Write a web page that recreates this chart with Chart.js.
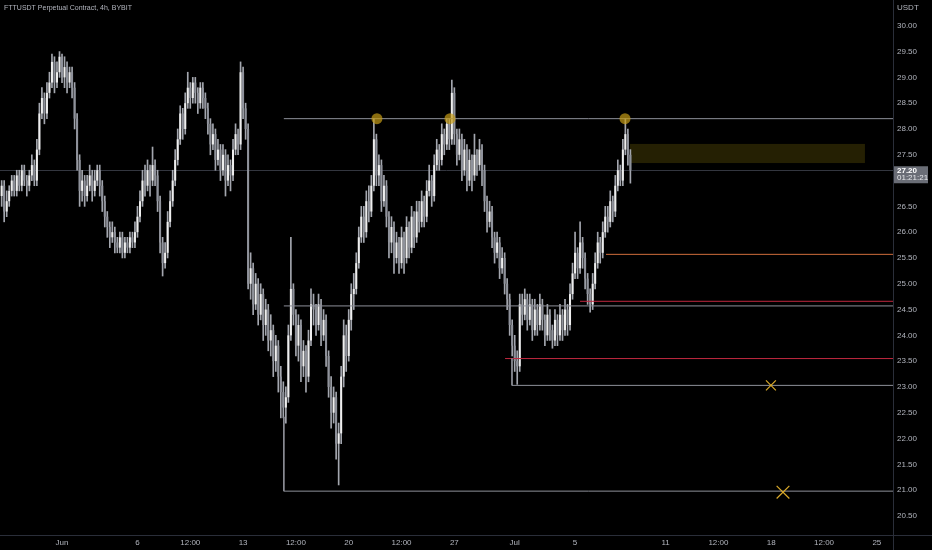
<!DOCTYPE html>
<html>
<head>
<meta charset="utf-8">
<script src="https://cdn.jsdelivr.net/npm/chart.js@4.4.1/dist/chart.umd.min.js"></script>
<style>
  html, body { margin: 0; padding: 0; background: #000; }
  #wrap { width: 932px; height: 550px; position: relative; }
</style>
</head>
<body>
<div id="wrap"><canvas id="fttChart"></canvas></div>
<script>
const chartTitle = "FTTUSDT Perpetual Contract, 4h, BYBIT";
const quoteCurrency = "USDT";
const lastPrice = 27.20;
const countdown = "01:21:21";

// candle times in days from Jun 1 00:00, one candle every 4h
const firstCandleDay = -4;
const firstOpen = 26.7;

const closes = [
  26.9, 26.4, 26.6, 26.8, 27.0, 26.8, 27.1, 26.9, 27.2, 27.0,
  26.9, 27.1, 27.3, 27.0, 27.6, 28.3, 28.6, 28.3, 28.7, 28.9,
  29.3, 28.9, 29.1, 29.4, 29.0, 29.2, 28.9, 29.1, 28.8, 28.2,
  27.4, 26.8, 27.0, 26.7, 26.9, 27.1, 26.8, 27.0, 27.2, 26.9,
  26.6, 26.3, 26.1, 25.9, 26.0, 25.8, 25.7, 25.9, 25.6, 25.8,
  25.7, 25.9, 25.8, 26.0, 26.3, 26.6, 27.0, 26.9, 27.2, 27.0,
  27.3, 27.1, 26.6, 25.8, 25.4, 25.6, 26.2, 26.6, 27.0, 27.4,
  27.8, 28.3, 28.0, 28.5, 28.8, 28.6, 28.9, 28.7, 28.5, 28.8,
  28.6, 28.4, 28.1, 27.7, 27.9, 27.4, 27.6, 27.2, 27.5, 27.0,
  27.3, 27.1, 27.6, 27.9, 27.7, 29.1, 28.4, 28.0, 25.0, 25.3,
  24.6, 25.0, 24.4, 24.8, 24.2, 24.5, 23.9, 24.1, 23.5, 23.8,
  23.2, 22.9, 22.6, 22.8, 24.0, 24.9, 24.4, 23.8, 24.2, 23.4,
  23.7, 23.2, 23.9, 24.6, 24.5, 24.2, 24.6, 24.0, 24.3, 23.6,
  23.0, 22.5, 22.8, 21.9, 22.1, 23.2, 24.0, 23.6, 24.3, 24.8,
  24.9, 25.4, 25.9, 26.3, 26.0, 26.6, 26.4, 26.9, 27.8, 27.1,
  27.3, 26.6, 26.9, 26.3, 25.8, 26.1, 25.5, 25.8, 25.4, 25.9,
  25.5, 26.1, 25.7, 26.3, 25.9, 26.4, 26.2, 26.6, 26.3, 26.8,
  27.0, 26.7, 27.3, 27.6, 27.4, 27.9, 27.7, 28.1, 27.8, 28.7,
  27.9, 27.5, 27.8, 27.2, 27.6, 27.0, 27.4, 27.1, 27.5, 27.3,
  27.6, 27.2, 26.6, 26.2, 26.4, 25.9, 25.6, 25.8, 25.3, 25.5,
  25.0, 24.7, 24.2, 23.8, 23.5, 23.4, 24.6, 24.4, 24.7, 24.3,
  24.6, 24.1, 24.5, 24.2, 24.6, 24.3, 24.0, 24.4, 24.1, 23.9,
  24.3, 24.0, 24.4, 24.1, 24.5, 24.2, 24.8, 25.2, 25.6, 25.3,
  25.8, 25.5, 25.1, 24.8, 24.6, 25.0, 25.4, 25.8, 25.6, 26.0,
  26.3, 26.2, 26.6, 26.4, 26.9, 27.2, 27.0, 27.6, 27.9, 27.5, 27.2
];

const highs = [
  27.0, 27.0, 26.8, 26.9, 27.1, 27.1, 27.2, 27.2, 27.3, 27.3,
  27.1, 27.2, 27.5, 27.4, 27.8, 28.5, 28.8, 28.7, 28.9, 29.1,
  29.45, 29.4, 29.3, 29.5, 29.45, 29.4, 29.3, 29.2, 29.2, 28.9,
  28.3, 27.5, 27.2, 27.1, 27.1, 27.3, 27.2, 27.2, 27.3, 27.3,
  27.0, 26.7, 26.4, 26.2, 26.2, 26.1, 25.9, 26.0, 26.0, 25.9,
  25.9, 26.0, 26.0, 26.2, 26.5, 26.8, 27.2, 27.3, 27.4, 27.3,
  27.65, 27.4, 27.2, 26.7, 25.9, 25.8, 26.4, 26.8, 27.2, 27.6,
  28.0, 28.45, 28.4, 28.7, 29.1, 28.9, 29.0, 29.0, 28.8, 28.9,
  28.9, 28.7, 28.5, 28.2, 28.1, 28.0, 27.8, 27.7, 27.7, 27.6,
  27.5, 27.4, 27.8, 28.1, 28.0, 29.3, 29.2, 28.5, 28.1, 25.6,
  25.4, 25.2, 25.1, 25.0, 24.9, 24.7, 24.6, 24.4, 24.2, 24.0,
  23.9, 23.4, 23.1, 23.0, 24.2, 25.9, 25.0, 24.5, 24.4, 24.3,
  23.9, 23.8, 24.1, 24.9, 24.8, 24.6, 24.8, 24.7, 24.5, 24.4,
  23.7, 23.2, 23.0, 22.9, 22.3, 23.4, 24.3, 24.2, 24.5, 25.0,
  25.2, 25.6, 26.1, 26.5, 26.5, 26.8, 26.9, 27.1, 28.2, 27.9,
  27.5, 27.4, 27.1, 27.0, 26.4, 26.3, 26.2, 26.0, 25.9, 26.1,
  26.0, 26.3, 26.2, 26.5, 26.4, 26.6, 26.6, 26.8, 26.7, 27.0,
  27.3, 27.1, 27.5, 27.8, 27.7, 28.1, 28.0, 28.2, 28.2, 28.95,
  28.8, 28.0, 28.0, 27.9, 27.8, 27.7, 27.6, 27.5, 27.9, 27.6,
  27.8, 27.7, 27.3, 26.7, 26.6, 26.5, 26.0, 26.0, 25.9, 25.7,
  25.6, 25.1, 24.8, 24.3, 24.0, 23.7, 24.8, 24.8, 24.9, 24.8,
  24.8, 24.7, 24.7, 24.6, 24.8, 24.7, 24.4, 24.6, 24.5, 24.2,
  24.5, 24.4, 24.6, 24.5, 24.7, 24.6, 25.0, 25.4, 26.0, 25.7,
  26.2, 25.9, 25.6, 25.2, 24.9, 25.2, 25.6, 26.0, 25.9, 26.2,
  26.5, 26.5, 26.8, 26.7, 27.1, 27.4, 27.3, 27.8, 28.2, 28.0, 27.6
];

const lows = [
  26.5, 26.2, 26.3, 26.5, 26.7, 26.7, 26.7, 26.8, 26.8, 26.9,
  26.7, 26.8, 27.0, 26.9, 26.9, 27.5, 28.2, 28.1, 28.2, 28.6,
  28.8, 28.7, 28.8, 29.0, 28.9, 28.8, 28.7, 28.8, 28.6, 28.0,
  27.2, 26.5, 26.6, 26.5, 26.6, 26.8, 26.6, 26.7, 26.9, 26.7,
  26.4, 26.1, 25.9, 25.7, 25.8, 25.6, 25.6, 25.6, 25.5, 25.5,
  25.6, 25.6, 25.7, 25.7, 25.9, 26.2, 26.5, 26.7, 26.8, 26.7,
  26.9, 26.9, 26.4, 25.6, 25.15, 25.3, 25.5, 26.1, 26.5, 26.9,
  27.3, 27.7, 27.8, 27.9, 28.4, 28.4, 28.5, 28.5, 28.3, 28.4,
  28.4, 28.2, 27.9, 27.5, 27.6, 27.2, 27.3, 27.0, 27.1, 26.7,
  26.9, 26.8, 27.0, 27.5, 27.5, 27.6, 28.2, 27.8, 24.9, 24.7,
  24.4, 24.5, 24.2, 24.3, 23.9, 24.0, 23.7, 23.6, 23.2, 23.3,
  22.9, 22.4, 22.4, 22.3, 22.7, 23.9, 24.2, 23.6, 23.5, 23.1,
  23.2, 22.9, 23.1, 23.8, 24.2, 24.0, 24.1, 23.8, 23.9, 23.4,
  22.8, 22.2, 22.3, 21.6, 21.1, 21.9, 23.0, 23.3, 23.5, 24.1,
  24.5, 24.8, 25.3, 25.8, 25.8, 25.9, 26.2, 26.3, 26.8, 26.9,
  26.9, 26.4, 26.5, 26.1, 25.5, 25.6, 25.2, 25.4, 25.2, 25.3,
  25.2, 25.4, 25.5, 25.6, 25.7, 25.8, 26.0, 26.1, 26.1, 26.2,
  26.7, 26.5, 26.6, 27.2, 27.2, 27.3, 27.5, 27.6, 27.6, 27.7,
  27.7, 27.3, 27.4, 27.0, 27.1, 26.8, 26.9, 26.8, 27.0, 27.1,
  27.2, 26.9, 26.4, 26.0, 26.1, 25.7, 25.4, 25.5, 25.1, 25.2,
  24.8, 24.5, 24.0, 23.6, 23.3, 23.05, 23.3, 24.2, 24.3, 24.1,
  24.2, 23.9, 24.0, 24.0, 24.1, 24.1, 23.8, 23.9, 23.9, 23.75,
  23.8, 23.8, 23.9, 23.9, 24.0, 24.0, 24.1, 24.7, 25.1, 25.1,
  25.2, 25.3, 24.9, 24.6, 24.45, 24.5, 24.9, 25.3, 25.4, 25.5,
  25.9, 26.0, 26.1, 26.2, 26.3, 26.8, 26.9, 26.9, 27.5, 27.3, 26.95
];

const priceTicks = [20.5, 21, 21.5, 22, 22.5, 23, 23.5, 24, 24.5, 25, 25.5, 26, 26.5, 27, 27.5, 28, 28.5, 29, 29.5, 30];
const timeTickDays = [0, 5, 8.5, 12, 15.5, 19, 22.5, 26, 30, 34, 40, 43.5, 47, 50.5, 54];
const timeTickLabels = ["Jun", "6", "12:00", "13", "12:00", "20", "12:00", "27", "Jul", "5", "11", "12:00", "18", "12:00", "25"];

// drawn levels: price and the day the line starts from
const greyLevels = [
  { price: 28.20, from: 14.7 },
  { price: 24.57, from: 14.7 },
  { price: 23.03, from: 29.82, top: 23.55 },
  { price: 20.98, from: 14.7, top: 22.42 },
];
const orangeLevels = [{ price: 25.57, from: 36.05 }];
const redLevels = [
  { price: 24.66, from: 34.33 },
  { price: 23.55, from: 29.36 },
];
const touchPoints = [
  { x: 20.87, y: 28.2 },
  { x: 25.71, y: 28.2 },
  { x: 37.31, y: 28.2 },
];
const targetMarks = [
  { x: 46.98, y: 23.03 },
  { x: 47.78, y: 20.96 },
];
const zone = { from: 37.64, to: 53.21, low: 27.34, high: 27.71 };

const xMin = -4.11;
const xMax = 55.07;
const yMin = 20.13;
const yMax = 30.5;

const textColor = "#b2b5be";
const fontFamily = "'Liberation Sans', Arial, sans-serif";

const times = closes.map((c, i) => firstCandleDay + i / 6);
const opens = closes.map((c, i) => (i === 0 ? firstOpen : closes[i - 1]));

const bodies = closes.map((c, i) => ({ x: times[i], y: [opens[i], c] }));
const wicks = closes.map((c, i) => ({ x: times[i], y: [lows[i], highs[i]] }));
const bodyColors = closes.map((c, i) => (c >= opens[i] ? "#eeeeee" : "#8f929b"));

function levelDataset(level, color) {
  const pts = [];
  if (level.top !== undefined) pts.push({ x: level.from, y: level.top });
  pts.push({ x: level.from, y: level.price }, { x: xMax, y: level.price });
  return {
    type: "line",
    data: pts,
    borderColor: color,
    borderWidth: 1,
    pointRadius: 0,
    order: 0,
  };
}

const overlay = {
  id: "overlay",
  beforeDatasetsDraw(chart) {
    const { ctx, scales } = chart;
    const x = scales.x;
    const y = scales.y;
    ctx.save();
    // current price line
    ctx.strokeStyle = "#33363f";
    ctx.lineWidth = 1;
    ctx.beginPath();
    const py = Math.round(y.getPixelForValue(lastPrice)) + 0.5;
    ctx.moveTo(chart.chartArea.left, py);
    ctx.lineTo(chart.chartArea.right, py);
    ctx.stroke();
    // target zone
    const x0 = x.getPixelForValue(zone.from);
    const x1 = x.getPixelForValue(zone.to);
    const y0 = y.getPixelForValue(zone.high);
    const y1 = y.getPixelForValue(zone.low);
    ctx.fillStyle = "rgba(115, 98, 8, 0.32)";
    ctx.fillRect(x0, y0, x1 - x0, y1 - y0);
    ctx.restore();
  },
  afterDraw(chart) {
    const { ctx, chartArea, scales } = chart;
    ctx.save();
    ctx.strokeStyle = "#2a2e39";
    ctx.lineWidth = 1;
    ctx.beginPath();
    ctx.moveTo(0, chartArea.bottom + 0.5);
    ctx.lineTo(chart.width, chartArea.bottom + 0.5);
    ctx.moveTo(chartArea.right + 0.5, 0);
    ctx.lineTo(chartArea.right + 0.5, chart.height);
    ctx.stroke();

    ctx.fillStyle = textColor;
    ctx.textBaseline = "middle";
    ctx.textAlign = "left";
    ctx.font = "7px " + fontFamily;
    ctx.fillText(chartTitle, 4, 8);
    ctx.font = "8px " + fontFamily;
    ctx.fillText(quoteCurrency, chartArea.right + 4, 8);

    // last price tag
    const py = scales.y.getPixelForValue(lastPrice);
    ctx.fillStyle = "#6a6d76";
    ctx.fillRect(chartArea.right + 1, py - 4, 34, 17);
    ctx.fillStyle = "#ffffff";
    ctx.font = "bold 8px " + fontFamily;
    ctx.fillText(lastPrice.toFixed(2), chartArea.right + 4, py + 0.5);
    ctx.font = "8px " + fontFamily;
    ctx.fillStyle = "#e6e7ea";
    ctx.fillText(countdown, chartArea.right + 4, py + 8);
    ctx.restore();
  },
};

new Chart(document.getElementById("fttChart"), {
  type: "bar",
  data: {
    datasets: [
      ...greyLevels.map((l) => levelDataset(l, "#8e9099")),
      ...orangeLevels.map((l) => levelDataset(l, "#cf6d3c")),
      ...redLevels.map((l) => levelDataset(l, "#c0283f")),
      {
        type: "scatter",
        data: touchPoints,
        pointRadius: 5.5,
        pointBackgroundColor: "rgba(196, 155, 22, 0.7)",
        pointBorderWidth: 0,
        order: -1,
      },
      {
        type: "scatter",
        data: targetMarks,
        pointStyle: "crossRot",
        pointRadius: [7, 9],
        pointBorderColor: "#d9a92a",
        pointBorderWidth: 1.2,
        order: -1,
      },
      {
        data: wicks,
        backgroundColor: "#a3a6ae",
        barThickness: 1,
        grouped: false,
        order: 3,
      },
      {
        data: bodies,
        backgroundColor: bodyColors,
        categoryPercentage: 1,
        barPercentage: 0.8,
        minBarLength: 1,
        grouped: false,
        order: 2,
      },
    ],
  },
  options: {
    responsive: true,
    maintainAspectRatio: false,
    animation: false,
    devicePixelRatio: 1,
    layout: { padding: 0, autoPadding: false },
    plugins: {
      legend: { display: false },
      tooltip: { enabled: false },
    },
    scales: {
      x: {
        type: "linear",
        min: xMin,
        max: xMax,
        offset: false,
        grid: { display: false, drawTicks: false },
        border: { display: false },
        afterBuildTicks: (axis) => {
          axis.ticks = timeTickDays.map((v) => ({ value: v }));
        },
        afterFit: (axis) => {
          axis.height = 15;
          axis.paddingLeft = 0;
          axis.paddingRight = 0;
        },
        ticks: {
          color: textColor,
          font: { size: 8, family: fontFamily },
          padding: 3,
          maxRotation: 0,
          autoSkip: false,
          callback: (v, i) => timeTickLabels[i],
        },
      },
      y: {
        position: "right",
        min: yMin,
        max: yMax,
        grid: { display: false, drawTicks: false },
        border: { display: false },
        afterBuildTicks: (axis) => {
          axis.ticks = priceTicks.map((v) => ({ value: v }));
        },
        afterFit: (axis) => {
          axis.width = 39;
          axis.paddingTop = 0;
          axis.paddingBottom = 0;
        },
        ticks: {
          color: textColor,
          font: { size: 8, family: fontFamily },
          padding: 4,
          callback: (v) => Number(v).toFixed(2),
        },
      },
    },
  },
  plugins: [overlay],
});
</script>
</body>
</html>
